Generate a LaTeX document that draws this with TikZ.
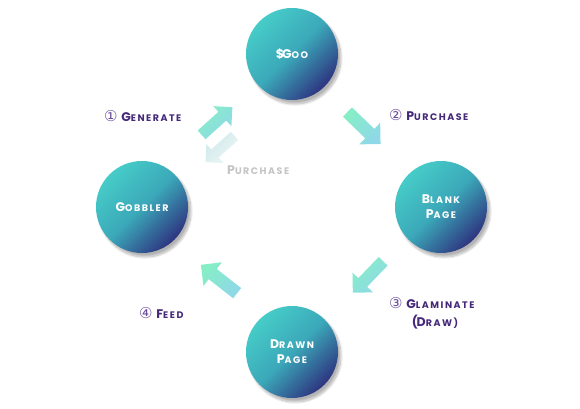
\documentclass[tikz,border=0pt]{standalone}
\usepackage{fontspec}
\setmainfont{Poppins}
\newfontfamily\labfont[LetterSpace=16]{Poppins}
\newfontfamily\symfont{DejaVu Sans}
\usetikzlibrary{shadows.blur}
\definecolor{tealA}{HTML}{46CCC8}
\definecolor{tealM}{HTML}{3BA8B9}
\definecolor{navyB}{HTML}{2E3580}
\definecolor{labpurple}{HTML}{45287A}
\definecolor{numpurple}{HTML}{6A4C9C}
\definecolor{mintA}{HTML}{86EEC6}
\definecolor{cyanB}{HTML}{8FD8E8}
\definecolor{greyA}{HTML}{D0EAEB}
\definecolor{greyB}{HTML}{ECF5F5}
\definecolor{greytext}{HTML}{C4C4C4}
\newcommand\smcap[2]{{\fontsize{12.5}{15}\selectfont #1}{\fontsize{9.5}{15}\selectfont #2}}
\newcommand\cnum[1]{{\mdseries\symfont\color{numpurple}\fontsize{15}{15}\selectfont #1}}
\tikzset{
  bubble/.style={circle, minimum size=92pt, inner sep=0pt, text=white,
    font=\labfont\bfseries\fontsize{12.5}{15}\selectfont, align=center,
    top color=tealA, bottom color=navyB, middle color=tealM, shading angle=45,
    blur shadow={shadow xshift=3pt, shadow yshift=-4pt, shadow blur steps=12, shadow opacity=30}},
  lab/.style={text=labpurple, font=\labfont\bfseries, inner sep=0pt},
  arrowfill/.style={top color=mintA, bottom color=cyanB, shading angle=45,
    blur shadow={shadow xshift=2pt, shadow yshift=-2pt, shadow blur steps=6, shadow opacity=18}},
  greyfill/.style={top color=greyA, bottom color=greyB, shading angle=45},
  pics/blockarrow/.style={code={
    \path[pic actions] (-23,-6.5) -- (8,-6.5) -- (8,-15) -- (23,0) -- (8,15) -- (8,6.5) -- (-23,6.5) -- cycle;
    \coordinate (-tip) at (23,0);}}
}
\begin{document}
\begin{tikzpicture}[x=1pt,y=1pt]
\useasboundingbox (0,0) rectangle (580,408);
\node[bubble] (goo) at (292,354) {\smcap{\$\kern-2ptG}{OO}};
\node[bubble] (blank) at (441,201) {\smcap{B}{LANK}\\\smcap{P}{AGE}};
\node[bubble] (gobbler) at (142,201) {\smcap{G}{OBBLER}};
\node[bubble] (drawn) at (292,56) {\smcap{D}{RAWN}\\\smcap{P}{AGE}};
\pic[rotate=42, scale=0.9, arrowfill] (agen) at (217,287) {blockarrow};
\pic[rotate=222, scale=0.85, greyfill] (agrey) at (220,259) {blockarrow};
\pic[rotate=-44, arrowfill] (apur) at (364,280) {blockarrow};
\pic[rotate=226, scale=0.95, arrowfill] (agla) at (368,131) {blockarrow};
\pic[rotate=142, arrowfill] (afeed) at (219,129) {blockarrow};
\node[lab, anchor=west] (lgen) at (104,292) {\cnum{①}\ \smcap{G}{ENERATE}};
\node[lab, anchor=west, text=greytext] (lgrey) at (227,238) {\smcap{P}{URCHASE}};
\node[lab, anchor=west] (lpur) at (389,293) {\cnum{②}\ \smcap{P}{URCHASE}};
\node[lab, anchor=west] (lgla) at (389,105) {\cnum{③}\ \smcap{G}{LAMINATE}};
\node[lab] (ldraw) at (435,86) {\smcap{(\kern-1.2ptD}{RAW)}};
\node[lab, anchor=west] (lfeed) at (139,95) {\cnum{④}\ \smcap{F}{EED}};
\end{tikzpicture}
\end{document}
